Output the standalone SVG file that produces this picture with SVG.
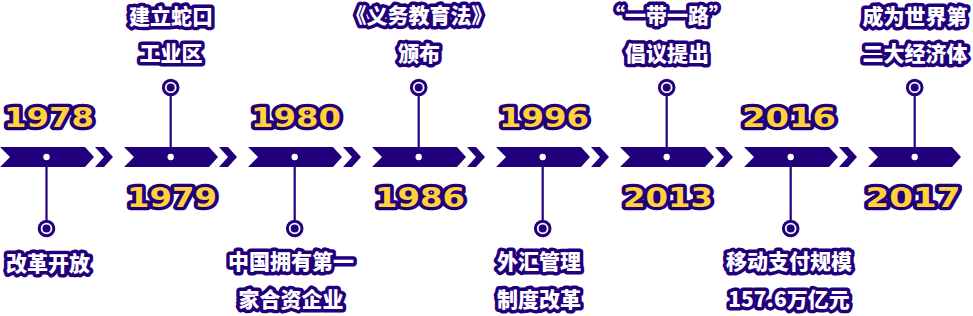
<svg xmlns="http://www.w3.org/2000/svg" width="973" height="316" viewBox="0 0 973 316">
<defs>
<style>
.bar{fill:#22007c}
.chev{fill:#22007c}
.hub{fill:#ffffff}
.stem{stroke:#22007c;stroke-width:2.2;fill:none}
.ring{fill:#ffffff;stroke:#22007c;stroke-width:3}
.pin{fill:#22007c}
.year{font-family:"DejaVu Sans","Liberation Sans",sans-serif;font-weight:bold;font-size:27px;fill:#ffd23c;stroke:#22007c;stroke-width:6.5;stroke-linejoin:round;paint-order:stroke;text-anchor:middle}
.lbl{font-family:"Noto Sans CJK SC","Noto Sans",sans-serif;font-weight:900;font-size:21px;fill:#ffffff;stroke:#22007c;stroke-width:7;stroke-linejoin:round;paint-order:stroke;text-anchor:middle}
</style>
<polygon id="body" points="0,147 85,147 94,157 85,167 0,167 10,157"/>
<polygon id="chv" points="95,147 104,147 113,157 104,167 95,167 104,157"/>
</defs>
<rect width="973" height="316" fill="#ffffff"/>
<g id="connectors">
<line class="stem" x1="46.5" y1="157" x2="46.5" y2="221"/>
<line class="stem" x1="170.7" y1="157" x2="170.7" y2="95"/>
<line class="stem" x1="294.7" y1="157" x2="294.7" y2="221"/>
<line class="stem" x1="418.7" y1="157" x2="418.7" y2="95"/>
<line class="stem" x1="542.7" y1="157" x2="542.7" y2="221"/>
<line class="stem" x1="666.7" y1="157" x2="666.7" y2="95"/>
<line class="stem" x1="790.7" y1="157" x2="790.7" y2="221"/>
<line class="stem" x1="914.7" y1="157" x2="914.7" y2="95"/>
</g>
<g id="n1978">
<use href="#body" class="bar"/><use href="#chv" class="chev"/>
<circle class="hub" cx="46.5" cy="157" r="3.2"/>
<text class="year" x="49" y="127" textLength="90" lengthAdjust="spacingAndGlyphs">1978</text>
<circle class="ring" cx="46.5" cy="228.5" r="7.3"/><circle class="pin" cx="46.5" cy="228.5" r="4"/>
<text class="lbl" x="48" y="271">改革开放</text>
</g>
<g id="n1979" transform="translate(124,0)">
<use href="#body" class="bar"/><use href="#chv" class="chev"/>
<circle class="hub" cx="46.7" cy="157" r="3.2"/>
<text class="year" x="48" y="207" textLength="90" lengthAdjust="spacingAndGlyphs">1979</text>
<circle class="ring" cx="46.7" cy="87.5" r="7.3"/><circle class="pin" cx="46.7" cy="87.5" r="4"/>
<text class="lbl" x="47" y="24">建立蛇口</text>
<text class="lbl" x="47" y="61">工业区</text>
</g>
<g id="n1980" transform="translate(248,0)">
<use href="#body" class="bar"/><use href="#chv" class="chev"/>
<circle class="hub" cx="46.7" cy="157" r="3.2"/>
<text class="year" x="48" y="127" textLength="90" lengthAdjust="spacingAndGlyphs">1980</text>
<circle class="ring" cx="46.7" cy="228.5" r="7.3"/><circle class="pin" cx="46.7" cy="228.5" r="4"/>
<text class="lbl" x="43" y="269">中国拥有第一</text>
<text class="lbl" x="43" y="307">家合资企业</text>
</g>
<g id="n1986" transform="translate(372,0)">
<use href="#body" class="bar"/><use href="#chv" class="chev"/>
<circle class="hub" cx="46.7" cy="157" r="3.2"/>
<text class="year" x="48" y="207" textLength="90" lengthAdjust="spacingAndGlyphs">1986</text>
<circle class="ring" cx="46.7" cy="87.5" r="7.3"/><circle class="pin" cx="46.7" cy="87.5" r="4"/>
<text class="lbl" x="47" y="23">《义务教育法》</text>
<text class="lbl" x="47" y="61">颁布</text>
</g>
<g id="n1996" transform="translate(496,0)">
<use href="#body" class="bar"/><use href="#chv" class="chev"/>
<circle class="hub" cx="46.7" cy="157" r="3.2"/>
<text class="year" x="48" y="127" textLength="90" lengthAdjust="spacingAndGlyphs">1996</text>
<circle class="ring" cx="46.7" cy="228.5" r="7.3"/><circle class="pin" cx="46.7" cy="228.5" r="4"/>
<text class="lbl" x="43" y="269">外汇管理</text>
<text class="lbl" x="43" y="307">制度改革</text>
</g>
<g id="n2013" transform="translate(620,0)">
<use href="#body" class="bar"/><use href="#chv" class="chev"/>
<circle class="hub" cx="46.7" cy="157" r="3.2"/>
<text class="year" x="48" y="207" textLength="90" lengthAdjust="spacingAndGlyphs">2013</text>
<circle class="ring" cx="46.7" cy="87.5" r="7.3"/><circle class="pin" cx="46.7" cy="87.5" r="4"/>
<text class="lbl" x="47" y="23">“一带一路”</text>
<text class="lbl" x="47" y="61">倡议提出</text>
</g>
<g id="n2016" transform="translate(744,0)">
<use href="#body" class="bar"/><use href="#chv" class="chev"/>
<circle class="hub" cx="46.7" cy="157" r="3.2"/>
<text class="year" x="45" y="127" textLength="94" lengthAdjust="spacingAndGlyphs">2016</text>
<circle class="ring" cx="46.7" cy="228.5" r="7.3"/><circle class="pin" cx="46.7" cy="228.5" r="4"/>
<text class="lbl" x="45" y="269">移动支付规模</text>
<text class="lbl" x="45" y="307">157.6万亿元</text>
</g>
<g id="n2017" transform="translate(868,0)">
<polygon class="bar" points="0,147 84,147 93,157 84,167 0,167 10,157"/>
<circle class="hub" cx="46.7" cy="157" r="3.2"/>
<text class="year" x="45" y="207" textLength="95" lengthAdjust="spacingAndGlyphs">2017</text>
<circle class="ring" cx="46.7" cy="87.5" r="7.3"/><circle class="pin" cx="46.7" cy="87.5" r="4"/>
<text class="lbl" x="47" y="24">成为世界第</text>
<text class="lbl" x="47" y="61">二大经济体</text>
</g>
</svg>
